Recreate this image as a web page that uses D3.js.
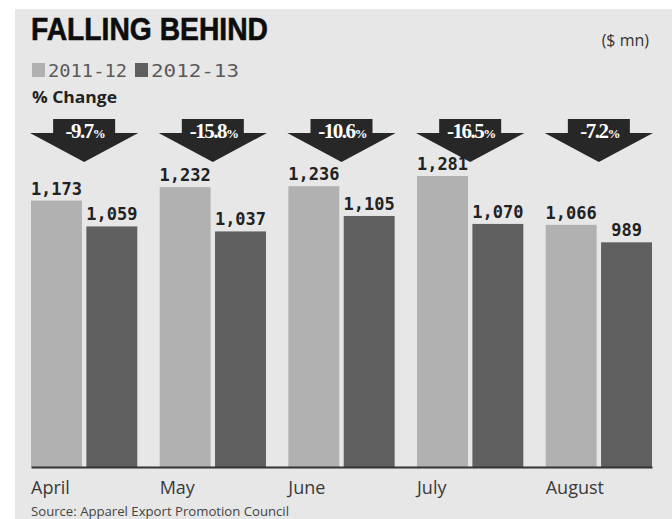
<!DOCTYPE html>
<html>
<head>
<meta charset="utf-8">
<script src="https://cdn.jsdelivr.net/npm/d3@7"></script>
<style>
  html, body { margin: 0; padding: 0; background: #fff; }
  svg { display: block; }
</style>
</head>
<body>
<svg width="672" height="519"></svg>
<script>
// data ($ mn)
var months = ["April", "May", "June", "July", "August"]
var series = ["2011-12", "2012-13"]
var exports1112 = [1173, 1232, 1236, 1281, 1066]
var exports1213 = [1059, 1037, 1105, 1070, 989]
var changeLabels = ["-9.7", "-15.8", "-10.6", "-16.5", "-7.2"]

var colors = { "2011-12": "#b1b1b1", "2012-13": "#5f5f5f" }

var svg = d3.select("svg")

// grey panel
svg.append("rect")
  .attr("x", 15).attr("y", 9)
  .attr("width", 672 - 15).attr("height", 519 - 9)
  .attr("fill", "#e7e7e7")

var base = 467
var x = d3.scaleBand().domain(months).range([31, 652]).paddingInner(0.174).paddingOuter(0)
var xs = d3.scaleBand().domain(series).range([0, x.bandwidth()]).paddingInner(0.08)
var y = d3.scaleLinear().domain([0, 1281]).range([base, 176])

// title
svg.append("text")
  .attr("x", 31).attr("y", 40)
  .attr("font-family", "'Liberation Sans Narrow', 'Liberation Sans', sans-serif")
  .attr("font-weight", "bold")
  .attr("font-size", 32)
  .attr("textLength", 237).attr("lengthAdjust", "spacingAndGlyphs")
  .attr("fill", "#0d0d0d")
  .attr("stroke", "#0d0d0d").attr("stroke-width", 0.6)
  .text("FALLING BEHIND")

svg.append("text")
  .attr("x", 649).attr("y", 46)
  .attr("text-anchor", "end")
  .attr("font-family", "'Open Sans', sans-serif")
  .attr("font-size", 16)
  .attr("fill", "#333")
  .text("($ mn)")

// legend
var leg = svg.append("g")
var legX = [32, 135]
series.forEach(function(s, i) {
  leg.append("rect")
    .attr("x", legX[i]).attr("y", 63)
    .attr("width", 13).attr("height", 14)
    .attr("fill", colors[s])
  leg.append("text")
    .attr("x", legX[i] + 16).attr("y", 77)
    .attr("font-family", "'DejaVu Sans Mono', monospace")
    .attr("font-size", 18)
    .attr("textLength", i == 0 ? 79 : 88).attr("lengthAdjust", "spacingAndGlyphs")
    .attr("fill", "#5a5a5a")
    .text(s)
})

svg.append("text")
  .attr("x", 32).attr("y", 103)
  .attr("font-family", "'Open Sans', sans-serif")
  .attr("font-weight", "bold")
  .attr("font-size", 16)
  .attr("textLength", 85).attr("lengthAdjust", "spacingAndGlyphs")
  .attr("fill", "#222")
  .text("% Change")

// bars
var rows = months.map(function(m, i) {
  return { month: m, vals: [
    { s: series[0], v: exports1112[i] },
    { s: series[1], v: exports1213[i] }
  ], change: changeLabels[i] }
})

var groups = svg.append("g").selectAll("g").data(rows).enter().append("g")
  .attr("transform", d => "translate(" + x(d.month) + ",0)")

groups.selectAll("rect").data(d => d.vals).enter().append("rect")
  .attr("x", d => xs(d.s))
  .attr("y", d => y(d.v))
  .attr("width", xs.bandwidth())
  .attr("height", d => base - y(d.v))
  .attr("fill", d => colors[d.s])

groups.selectAll("text.val").data(d => d.vals).enter().append("text")
  .attr("class", "val")
  .attr("x", d => xs(d.s) + xs.bandwidth() / 2)
  .attr("y", d => y(d.v) - 6)
  .attr("text-anchor", "middle")
  .attr("font-family", "'DejaVu Sans Mono', monospace")
  .attr("font-weight", "bold")
  .attr("font-size", 17)
  .attr("fill", "#222")
  .text(d => d3.format(",")(d.v))

// arrows with % change
var bw = x.bandwidth()
groups.append("path")
  .attr("d", function() {
    var c = bw / 2, hb = 31, hw = bw / 2 + 1
    return "M" + (c - hb) + ",119H" + (c + hb) + "V133H" + (c + hw) +
      "L" + c + ",162L" + (c - hw) + ",133H" + (c - hb) + "Z"
  })
  .attr("fill", "#272727")

var ct = groups.append("text")
  .attr("x", bw / 2 + 1).attr("y", 138)
  .attr("text-anchor", "middle")
  .attr("font-family", "'Liberation Serif', serif")
  .attr("font-weight", "bold")
  .attr("fill", "#fff")
ct.append("tspan")
  .attr("font-size", 21)
  .attr("letter-spacing", -1.5)
  .text(d => d.change)
ct.append("tspan")
  .attr("font-size", 13)
  .attr("letter-spacing", -1)
  .text("%")

// x axis
var axis = svg.append("g")
  .attr("transform", "translate(0," + base + ")")
  .call(d3.axisBottom(x).tickSize(0).tickSizeOuter(0))
axis.select(".domain").attr("stroke", "#333").attr("stroke-width", 2)
axis.selectAll(".tick text")
  .attr("x", -bw / 2)
  .attr("y", 27)
  .attr("dy", 0)
  .attr("text-anchor", "start")
  .attr("font-family", "'Open Sans', sans-serif")
  .attr("font-weight", 500)
  .attr("font-size", 18)
  .attr("fill", "#3a3a3a")

svg.append("text")
  .attr("x", 31).attr("y", 516)
  .attr("font-family", "'Open Sans', sans-serif")
  .attr("font-size", 12)
  .attr("textLength", 258).attr("lengthAdjust", "spacingAndGlyphs")
  .attr("fill", "#444")
  .text("Source: Apparel Export Promotion Council")
</script>
</body>
</html>
